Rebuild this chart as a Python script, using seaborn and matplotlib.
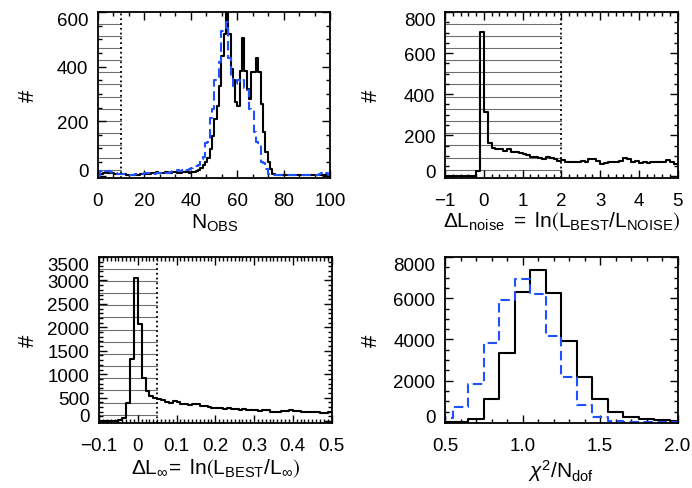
"""Four-panel histogram figure: N_OBS, noise likelihood ratio, L_inf ratio and reduced chi^2."""

import matplotlib

matplotlib.use("Agg")
import matplotlib.pyplot as plt
import numpy as np
import pandas as pd
import seaborn as sns
from matplotlib.ticker import AutoMinorLocator, MultipleLocator
from matplotlib.transforms import ScaledTranslation


BLACK = "#000000"
BLUE = "#1E50FF"
HATCH_COLOR = "#6E6E6E"
FONT = "Liberation Sans"

# ---- panel 1: number of observations (bins of width 1, 0..100) ----
NOBS_CUT = 10
nobs_black = [
    3, 8, 12, 14, 12, 10, 9, 8, 6, 6,
    5, 5, 4, 4, 3, 3, 4, 4, 5, 5,
    6, 7, 8, 10, 12, 14, 12, 10, 12, 14,
    11, 10, 13, 15, 12, 10, 13, 15, 14, 12,
    13, 15, 16, 22, 28, 38, 50, 65, 98, 147,
    208, 257, 330, 440, 520, 625, 520, 392, 349, 270,
    257, 385, 505, 385, 318, 282, 380, 380, 430, 380,
    263, 160, 86, 50, 25, 8, 4, 4, 3, 3,
    4, 3, 3, 4, 3, 3, 4, 3, 3, 4,
    3, 3, 4, 3, 3, 4, 3, 3, 4, 3,
]
nobs_blue = [
    0, 18, 20, 18, 16, 15, 12, 10, 8, 7,
    6, 5, 4, 4, 3, 4, 5, 6, 6, 8,
    10, 12, 10, 8, 8, 10, 12, 10, 8, 10,
    12, 14, 16, 18, 20, 18, 20, 24, 22, 25,
    30, 35, 37, 40, 62, 70, 120, 125, 210, 245,
    350, 360, 415, 530, 535, 563, 430, 370, 330, 335,
    350, 345, 350, 320, 315, 245, 240, 160, 125, 120,
    50, 48, 25, 5, 3, 3, 3, 3, 3, 3,
    3, 3, 3, 3, 3, 3, 3, 3, 3, 3,
    3, 3, 3, 3, 3, 6, 10, 14, 10, 3,
]

# ---- panel 2: Delta L_noise (bins of width 0.1, -1..5) ----
NOISE_CUT = 2.0
noise_black = [
    0, 0, 0, 0, 1, 1, 2, 4, 25, 703,
    311, 163, 137, 134, 133, 122, 133, 117, 116, 114,
    110, 105, 93, 93, 90, 85, 95, 88, 85, 77,
    80, 72, 70, 72, 68, 77, 72, 82, 85, 75,
    61, 63, 70, 68, 72, 77, 88, 82, 72, 73,
    66, 68, 64, 70, 69, 69, 70, 78, 72, 62,
]

# ---- panel 3: Delta L_inf (bins of width 0.01, -0.1..0.5) ----
LINF_CUT = 0.05
linf_black = [
    0, 0, 0, 2, 5, 20, 62, 396, 1333, 3049,
    2063, 917, 653, 535, 500,
    470, 445, 410, 395, 440, 410, 375, 360, 345, 375,
    365, 330, 320, 300, 290, 270, 275, 265, 270, 255,
    250, 245, 260, 235, 230, 240, 225, 245, 230, 200,
    205, 195, 210, 225, 240, 220, 210, 200, 205, 195,
    205, 185, 180, 165, 185,
]

# ---- panel 4: reduced chi^2 (bins of width 0.1 centred on 0.5..2.0) ----
chi_black = [0, 0, 160, 1120, 3360, 6320, 7360, 6240, 3920, 2190, 1120, 480, 240, 128, 80, 30]
chi_blue = [200, 740, 1840, 3810, 5920, 6930, 6190, 4160, 2160, 800, 240, 50, 5, 0, 0, 0]


def _set_theme():
    sns.set_style("ticks")
    plt.rcParams.update(
        {
            "font.family": [FONT, "DejaVu Sans"],
            "font.size": 13.5,
            "mathtext.fontset": "custom",
            "mathtext.rm": FONT,
            "mathtext.it": FONT + ":italic",
            "mathtext.bf": FONT + ":bold",
            "mathtext.fallback": "stixsans",
            "axes.linewidth": 1.3,
            "axes.edgecolor": BLACK,
            "xtick.color": BLACK,
            "ytick.color": BLACK,
            "text.color": BLACK,
            "axes.labelcolor": BLACK,
        }
    )


def _step(ax, edges, counts, color, dashed=False):
    edges = np.asarray(edges, dtype=float)
    frame = pd.DataFrame({"x": (edges[:-1] + edges[1:]) / 2, "n": counts})
    sns.histplot(
        data=frame,
        x="x",
        weights="n",
        bins=edges.tolist(),
        element="step",
        fill=False,
        color=color,
        linewidth=1.5,
        linestyle=(0, (4.5, 2.2)) if dashed else "-",
        ax=ax,
    )


def _hatch_cut(ax, x_left, x_cut):
    """Horizontal line fill for the excluded region, plus the dotted cut line."""
    for y in np.arange(0.05, 0.95, 0.0733):
        ax.plot([x_left, x_cut], [y, y], transform=ax.get_xaxis_transform(),
                color=HATCH_COLOR, linewidth=0.8, zorder=0.5)
    ax.axvline(x_cut, color=BLACK, linestyle=":", linewidth=1.3, zorder=3)


def _style(fig, ax, xlim, ylim, xmajor, xminor, ymajor, yminor, xlabel, xlabel_y, ylabel_x):
    ax.set_xlim(*xlim)
    ax.xaxis.set_major_locator(MultipleLocator(xmajor))
    ax.xaxis.set_minor_locator(AutoMinorLocator(xminor))
    ax.set_yticks(np.arange(0, ylim[1] + 1, ymajor))
    ax.yaxis.set_minor_locator(AutoMinorLocator(yminor))
    ax.set_ylim(*ylim)
    ax.tick_params(which="both", direction="in", top=True, right=True, width=1.0)
    ax.tick_params(which="major", length=6, labelsize=13.5)
    ax.tick_params(which="minor", length=3)
    ax.tick_params(axis="x", which="major", pad=10)
    ax.tick_params(axis="y", which="major", pad=7)

    # end labels are pulled inside the frame, as in the original figure
    ylabels = ax.get_yticklabels()
    ylabels[0].set_va("center")
    ylabels[0].set_transform(ylabels[0].get_transform()
                             + ScaledTranslation(0, 3.0 / 72, fig.dpi_scale_trans))
    ylabels[-1].set_va("top")

    ax.set_xlabel(xlabel, fontsize=15)
    ax.xaxis.set_label_coords(0.5, xlabel_y)
    ax.set_ylabel("#", fontsize=16)
    ax.yaxis.set_label_coords(ylabel_x, 0.5)
    for side in ax.spines.values():
        side.set_visible(True)


def main():
    _set_theme()
    fig = plt.figure(figsize=(6.92, 4.89), dpi=100)
    w, h = 0.3360, 0.3395
    ax1 = fig.add_axes([0.1416, 0.634, w, h])
    ax2 = fig.add_axes([0.6431, 0.634, w, h])
    ax3 = fig.add_axes([0.1431, 0.1329, w, h])
    ax4 = fig.add_axes([0.6431, 0.1329, w, h])

    # panel 1
    edges1 = np.arange(0, 101, 1.0)
    _hatch_cut(ax1, 0, NOBS_CUT)
    _step(ax1, edges1, nobs_black, BLACK)
    _step(ax1, edges1, nobs_blue, BLUE, dashed=True)
    _style(fig, ax1, (0, 100), (-8, 600), 20, 3, 200, 4,
           r"N$_{\mathrm{OBS}}$", -0.205, -0.255)

    # panel 2
    edges2 = np.round(np.arange(-1.0, 5.05, 0.1), 2)
    _hatch_cut(ax2, -1, NOISE_CUT)
    _step(ax2, edges2, noise_black, BLACK)
    _style(fig, ax2, (-1, 5), (-8, 800), 1, 5, 200, 4,
           r"$\Delta\mathrm{L}_{\mathrm{noise}}\ =\ \mathrm{ln}\left(\mathrm{L}_{\mathrm{BEST}}/\mathrm{L}_{\mathrm{NOISE}}\right)$",
           -0.19, -0.27)

    # panel 3
    edges3 = np.round(np.arange(-0.10, 0.505, 0.01), 3)
    _hatch_cut(ax3, -0.1, LINF_CUT)
    _step(ax3, edges3, linf_black, BLACK)
    _style(fig, ax3, (-0.1, 0.5), (-40, 3500), 0.1, 10, 500, 5,
           r"$\Delta\mathrm{L}_{\infty}\!=\ \mathrm{ln}\left(\mathrm{L}_{\mathrm{BEST}}/\mathrm{L}_{\infty}\right)$",
           -0.2, -0.26)
    ax3.xaxis.set_major_formatter(plt.FuncFormatter(
        lambda v, _: f"{v:.1f}".replace("-", "\u2212") if abs(v) > 1e-9 else "0"))

    # panel 4
    edges4 = np.round(np.arange(0.45, 2.06, 0.1), 2)
    _step(ax4, edges4, chi_black, BLACK)
    _step(ax4, edges4, chi_blue, BLUE, dashed=True)
    _style(fig, ax4, (0.5, 2.0), (-50, 8000), 0.5, 5, 2000, 4,
           r"$\chi^{2}/\mathrm{N}_{\mathrm{dof}}$", -0.205, -0.27)
    ax4.xaxis.set_major_formatter(plt.FuncFormatter(lambda v, _: f"{v:.1f}"))

    fig.savefig("out.png", dpi=100, facecolor="white")
    plt.close(fig)


if __name__ == "__main__":
    main()
